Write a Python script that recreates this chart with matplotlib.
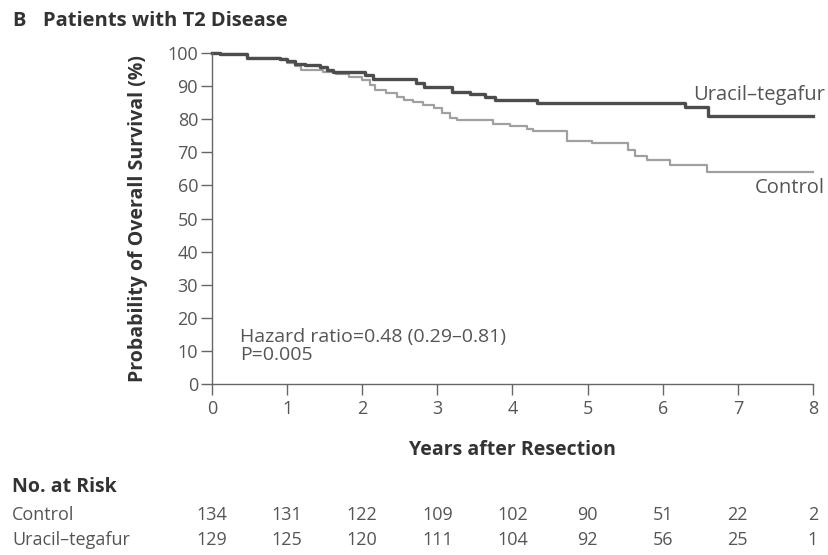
import matplotlib.pyplot as plt
import matplotlib.transforms as mtransforms

plt.rcParams['font.family'] = ['Open Sans', 'DejaVu Sans']

# Kaplan-Meier steps (years, % surviving)
uft_years = [0, 0.11, 0.47, 0.91, 1.0, 1.11, 1.24, 1.44, 1.53, 1.61, 2.04, 2.14, 2.72,
             2.82, 3.19, 3.44, 3.64, 3.77, 4.32, 6.30, 6.60, 8.0]
uft_surv = [100, 99.6, 98.6, 98.2, 97.5, 96.8, 96.5, 95.8, 94.9, 94.2, 93.4, 92.0, 90.9,
            89.7, 88.3, 87.5, 86.7, 85.7, 85.0, 83.6, 81.0, 81.0]

ctrl_years = [0, 0.11, 0.47, 0.91, 1.0, 1.1, 1.18, 1.48, 1.65, 1.83, 2.0, 2.1, 2.17, 2.32,
              2.46, 2.55, 2.68, 2.81, 2.95, 3.06, 3.17, 3.26, 3.74, 3.97, 4.19, 4.27, 4.73,
              5.06, 5.54, 5.63, 5.79, 6.10, 6.59, 8.0]
ctrl_surv = [100, 99.6, 98.6, 98.2, 97.1, 96.1, 94.9, 94.4, 93.6, 92.8, 91.8, 90.3, 88.8, 87.9,
             86.7, 85.8, 85.3, 84.3, 83.3, 82.0, 80.5, 79.7, 78.7, 77.9, 77.1, 76.4, 73.5,
             72.7, 70.7, 68.9, 67.8, 66.2, 63.9, 63.9]

risk_years = list(range(9))
risk_control = [134, 131, 122, 109, 102, 90, 51, 22, 2]
risk_uft = [129, 125, 120, 111, 104, 92, 56, 25, 1]

grey_text = '#555555'
axis_col = '#666666'

fig = plt.figure(figsize=(8.29, 5.55), dpi=100)
ax = fig.add_axes([0.2557, 0.3081, 0.725, 0.5964])

ax.step(ctrl_years, ctrl_surv, where='post', color='#a0a0a0', lw=1.6, clip_on=False)
ax.step(uft_years, uft_surv, where='post', color='#4d4d4d', lw=2.4, clip_on=False)

ax.set_xlim(0, 8)
ax.set_ylim(0, 100)
ax.set_xticks(range(9))
ax.set_yticks(range(0, 101, 10))
for side in ['top', 'right']:
    ax.spines[side].set_visible(False)
for side in ['left', 'bottom']:
    ax.spines[side].set_color(axis_col)
    ax.spines[side].set_linewidth(1.0)
ax.tick_params(axis='both', colors=axis_col, labelcolor=grey_text, labelsize=13, length=8, width=1.0)
ax.tick_params(axis='y', pad=2)

ax.set_xlabel('Years after Resection', fontsize=14, fontweight='bold', color='#333333', labelpad=16)
ax.set_ylabel('Probability of Overall Survival (%)', fontsize=14, fontweight='bold',
              color='#333333', labelpad=14)

ax.text(8.16, 87.3, 'Uracil\u2013tegafur', ha='right', va='center', fontsize=14.5, color=grey_text)
ax.text(8.16, 59.2, 'Control', ha='right', va='center', fontsize=14.5, color=grey_text)
ax.text(0.37, 14.2, 'Hazard ratio=0.48 (0.29\u20130.81)', ha='left', va='center', fontsize=14,
        color=grey_text)
ax.text(0.37, 8.8, 'P=0.005', ha='left', va='center', fontsize=14, color=grey_text)

fig.text(0.0145, 0.962, 'B', fontsize=14.5, fontweight='bold', color='#333333', va='center')
fig.text(0.052, 0.962, 'Patients with T2 Disease', fontsize=14.5, fontweight='bold',
         color='#333333', va='center')

# risk table below the plot
fig.text(0.0145, 1 - 487 / 555, 'No. at Risk', fontsize=14, fontweight='bold',
         color='#333333', va='center')
fig.text(0.0145, 1 - 515 / 555, 'Control', fontsize=13, color=grey_text, va='center')
fig.text(0.0145, 1 - 540 / 555, 'Uracil\u2013tegafur', fontsize=13, color=grey_text, va='center')
trans = mtransforms.blended_transform_factory(ax.transData, fig.transFigure)
for yr, c, u in zip(risk_years, risk_control, risk_uft):
    ax.text(yr, 1 - 515 / 555, str(c), transform=trans, ha='center', va='center',
            fontsize=13, color=grey_text, clip_on=False)
    ax.text(yr, 1 - 540 / 555, str(u), transform=trans, ha='center', va='center',
            fontsize=13, color=grey_text, clip_on=False)

fig.savefig('out.png', dpi=100)
